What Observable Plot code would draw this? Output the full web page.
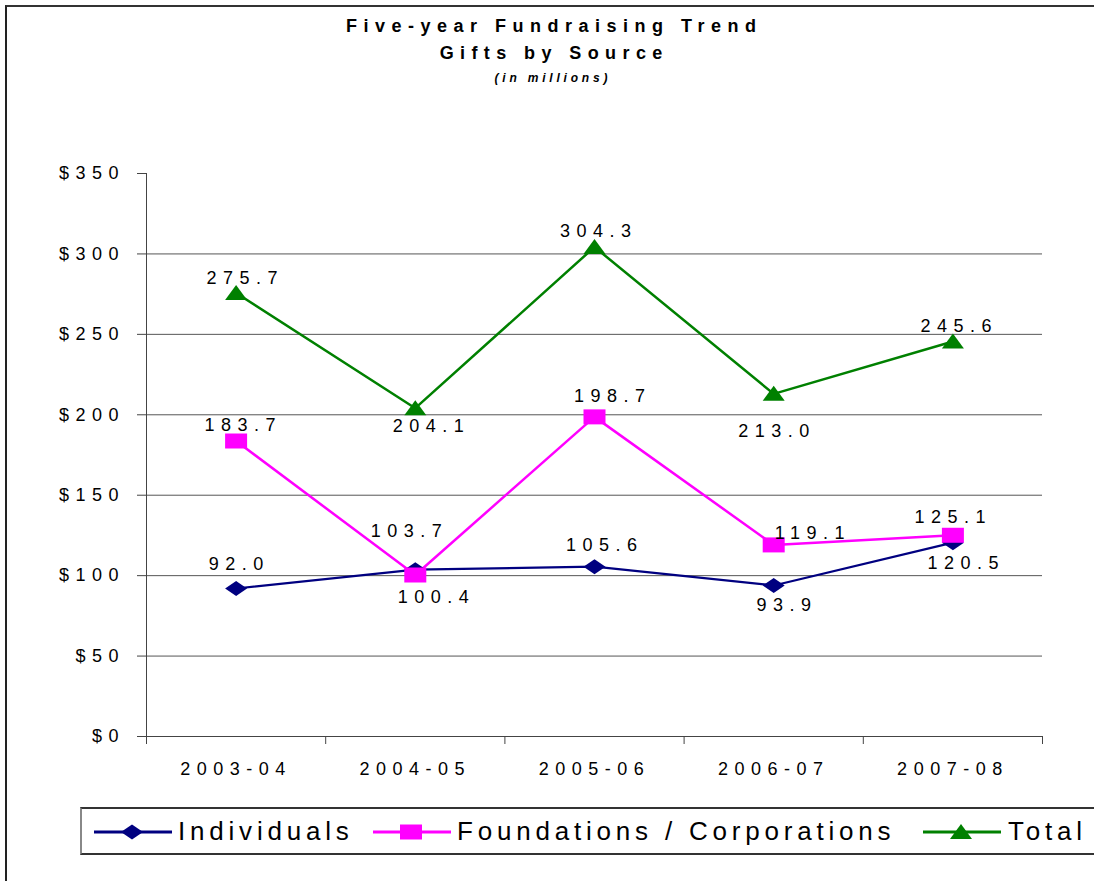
<!DOCTYPE html>
<html>
<head>
<meta charset="utf-8">
<script src="https://cdn.jsdelivr.net/npm/d3@7"></script>
<script src="https://cdn.jsdelivr.net/npm/@observablehq/plot@0.6"></script>
<style>
html, body { margin: 0; padding: 0; background: #fff; }
#page { position: relative; width: 1094px; height: 881px; overflow: hidden; font-family: "Liberation Sans", Arial, sans-serif; color: #000; }
#frame { position: absolute; left: 5px; top: 5px; width: 1200px; height: 1000px; border-left: 2px solid #222; border-top: 2px solid #333; }
.t { position: absolute; left: 0; width: 1102px; box-sizing: border-box; text-align: center; white-space: nowrap; line-height: 1; font-family: "Liberation Sans", Arial, sans-serif; }
#t1 { top: 17px; font-weight: bold; font-size: 18px; letter-spacing: 6.5px; padding-left: 6.5px; }
#t2 { top: 44px; font-weight: bold; font-size: 18px; letter-spacing: 6.4px; padding-left: 6.4px; }
#t3 { top: 72px; font-weight: bold; font-style: italic; font-size: 12px; letter-spacing: 3.8px; padding-left: 3.8px; }
#chart { position: absolute; left: 0; top: 140px; }
#chart svg text { letter-spacing: 6.5px; }
#legend { position: absolute; left: 80px; top: 807px; width: 1100px; height: 44px; border: 2px solid #333; border-left-color: #888; background: #fff; }
.sw { position: absolute; top: 12px; }
.lt { position: absolute; top: 9px; font-family: "Liberation Sans", Arial, sans-serif; font-size: 26px; line-height: 1; letter-spacing: 4.8px; white-space: nowrap; }
</style>
</head>
<body>
<div id="page">
  <div id="frame"></div>
  <div class="t" id="t1">Five-year Fundraising Trend</div>
  <div class="t" id="t2">Gifts by Source</div>
  <div class="t" id="t3">(in millions)</div>
  <div id="chart"></div>
  <div id="legend"></div>
</div>
<script>
// ---- data ----
const categories = ["2003-04", "2004-05", "2005-06", "2006-07", "2007-08"];
const individuals = [92.0, 103.7, 105.6, 93.9, 120.5];
const foundations = [183.7, 100.4, 198.7, 119.1, 125.1];
const total = [275.7, 204.1, 304.3, 213.0, 245.6];
const seriesNames = ["Individuals", "Foundations / Corporations", "Total"];
const yTicks = [0, 50, 100, 150, 200, 250, 300, 350];
const gridValues = [50, 100, 150, 200, 250, 300];

// ---- label offsets (pixels, annotation layout) ----
const labelDx = [[0, -9, 7, 10, 10], [4, 18, 15, 36, -3], [6, 13, 1, 0, 3]];
const labelDy = [[-24, -38, -21, 20, 21], [-16, 22, -21, -12, -18], [-15, 18, -16, 37, -15]];

// ---- styles ----
const colors = ["#000080", "#FF00FF", "#008000"];
function shape(points) {
  return {
    draw(ctx) {
      ctx.moveTo(points[0][0], points[0][1]);
      for (let i = 1; i < points.length; i++) ctx.lineTo(points[i][0], points[i][1]);
      ctx.closePath();
    }
  };
}
const diamond = shape([[0, -7.5], [11, 0], [0, 7.5], [-11, 0]]);
const square = shape([[-11, -7.5], [11, -7.5], [11, 7.5], [-11, 7.5]]);
const triangle = shape([[0, -8], [11, 7], [-11, 7]]);
const symbols = [diamond, square, triangle];

const seriesValues = [individuals, foundations, total];
const rows = [];
seriesValues.forEach((vals, s) => vals.forEach((v, i) => rows.push({series: seriesNames[s], s, i, v})));

const boundaries = d3.range(categories.length + 1).map(i => i - 0.5);
const idx = d3.range(categories.length);
const LS = 6.5;

const marks = [
  Plot.ruleY(gridValues, {stroke: "#555", strokeWidth: 1}),
  Plot.ruleX([-0.5], {stroke: "#444", strokeWidth: 1}),
  Plot.ruleY([0], {stroke: "#444", strokeWidth: 1}),
  Plot.axisY({ticks: yTicks, tickFormat: d => "$" + d, tickSize: 9, tickPadding: 12.5, stroke: "#444", fill: "#000", fontSize: 18, label: null}),
  Plot.axisX({ticks: boundaries, tickFormat: () => "", tickSize: 8, stroke: "#444", label: null}),
  Plot.axisX({ticks: idx, tickFormat: i => categories[i], tickSize: 0, tickPadding: 26, fill: "#000", fontSize: 18, label: null}),
];
seriesValues.forEach((vals, s) => {
  const data = rows.filter(r => r.s === s);
  marks.push(Plot.line(data, {x: "i", y: "v", stroke: colors[s], strokeWidth: s === 0 ? 2.2 : 2.5}));
});
seriesValues.forEach((vals, s) => {
  const data = rows.filter(r => r.s === s);
  marks.push(Plot.dot(data, {x: "i", y: "v", symbol: symbols[s], fill: colors[s], r: 6}));
});
rows.forEach(r => {
  marks.push(Plot.text([r], {x: "i", y: "v", text: d => d.v.toFixed(1), dx: labelDx[r.s][r.i] + LS / 2, dy: labelDy[r.s][r.i], fill: "#000", fontSize: 18}));
});

const chart = Plot.plot({
  width: 1094,
  height: 650,
  marginTop: 33,
  marginBottom: 54,
  marginLeft: 146,
  marginRight: 52,
  x: {type: "linear", domain: [-0.5, categories.length - 0.5], label: null},
  y: {domain: [0, 350], label: null},
  style: {fontFamily: "'Liberation Sans', Arial, sans-serif", fontSize: "18px", color: "#000", background: "transparent", overflow: "visible"},
  marks
});
document.getElementById("chart").appendChild(chart);

// ---- legend ----
const legend = d3.select("#legend");
const swLeft = [11, 290, 840];
const txLeft = [96, 375, 926];
seriesNames.forEach((name, s) => {
  const svg = legend.append("svg").attr("class", "sw").attr("width", 80).attr("height", 22)
    .style("left", swLeft[s] + "px");
  svg.append("line").attr("x1", 1).attr("x2", 79).attr("y1", 11).attr("y2", 11)
    .attr("stroke", colors[s]).attr("stroke-width", 3);
  const p = d3.path();
  symbols[s].draw(p);
  svg.append("path").attr("d", p.toString()).attr("transform", "translate(39,11)").attr("fill", colors[s]);
  legend.append("span").attr("class", "lt").style("left", txLeft[s] + "px").text(name);
});
</script>
</body>
</html>
